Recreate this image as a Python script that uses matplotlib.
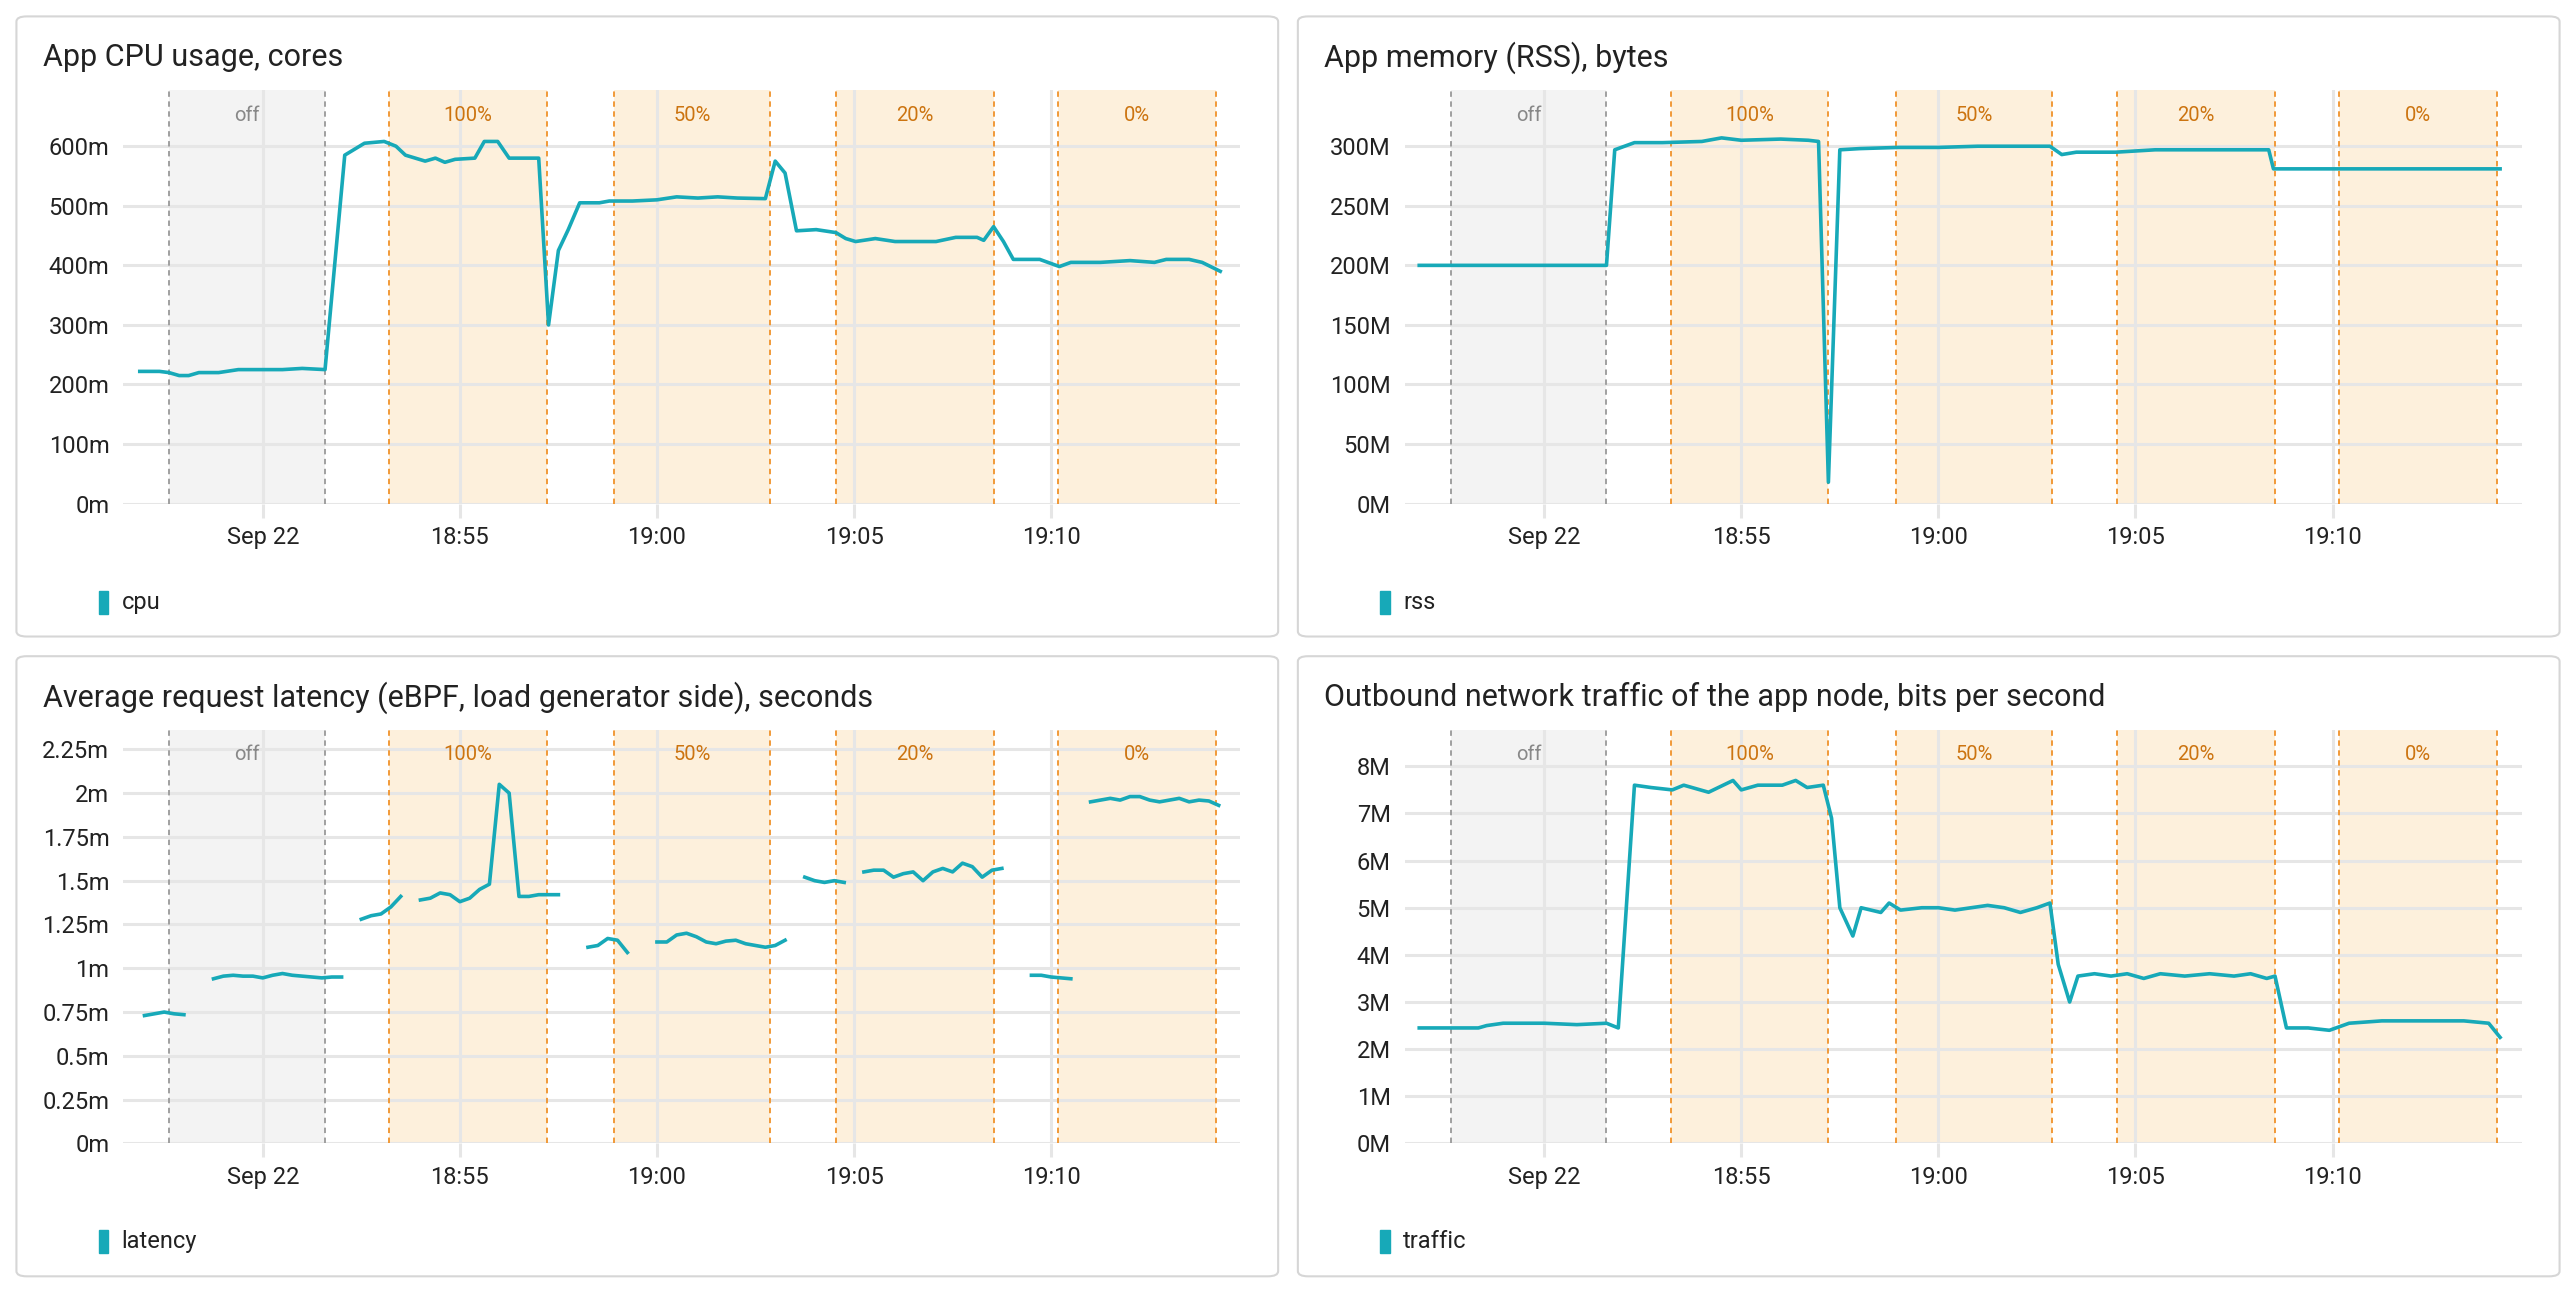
import matplotlib.pyplot as plt
import numpy as np
from matplotlib.patches import FancyBboxPatch, Rectangle
from matplotlib.ticker import FuncFormatter

plt.rcParams["font.family"] = ["Roboto", "DejaVu Sans"]

# time in minutes after 18:50
tick_pos = [0, 5, 10, 15, 20]
tick_labels = ["Sep 22", "18:55", "19:00", "19:05", "19:10"]

band_names = ["off", "100%", "50%", "20%", "0%"]
band_start = [-2.37, 3.21, 8.92, 14.54, 20.17]
band_end = [1.58, 7.21, 12.88, 18.54, 24.17]

cpu_t = [-3.12, -2.62, -2.38, -2.12, -1.88, -1.62, -1.12, -0.62, 0, 0.5, 1.0, 1.58,
         2.08, 2.58, 3.08, 3.38, 3.62, 4.12, 4.38, 4.62, 4.88, 5.38, 5.62, 5.96, 6.25,
         7.0, 7.25, 7.5, 7.75, 8.04, 8.54, 8.79, 9.38, 10.0, 10.5, 11.04, 11.54, 12.04,
         12.75, 13.0, 13.25, 13.54, 14.04, 14.54, 14.79, 15.04, 15.54, 16.04, 16.54,
         17.08, 17.58, 18.12, 18.29, 18.54, 18.79, 19.04, 19.71, 20.21, 20.5, 21.25,
         22.0, 22.62, 22.92, 23.5, 23.83, 24.29]
cpu_m = [222, 222, 220, 215, 215, 220, 220, 225, 225, 225, 227, 225,
         585, 605, 608, 600, 585, 575, 580, 573, 578, 580, 608, 608, 580,
         580, 300, 425, 460, 505, 505, 508, 508, 510, 515, 513, 515, 513,
         512, 575, 555, 458, 460, 455, 445, 440, 445, 440, 440,
         440, 447, 447, 442, 465, 440, 410, 410, 398, 405, 405,
         408, 405, 410, 410, 405, 390]

rss_t = [-3.17, 1.58, 1.79, 2.29, 3.0, 4.0, 4.5, 5.0, 6.0, 6.7, 6.96, 7.21, 7.5, 8.0,
         9.0, 10.0, 11.0, 12.0, 12.83, 13.13, 13.5, 14.5, 15.0, 15.5, 17.0, 18.38, 18.5, 24.25]
rss_mb = [200, 200, 297, 303, 303, 304, 307, 305, 306, 305, 304, 18, 297, 298,
          299, 299, 300, 300, 300, 293, 295, 295, 296, 297, 297, 297, 281, 281]

# latency sampled every 15 s starting 18:47:00, NaN = no data
lat_t0 = -3.0
lat_step = 0.25
nan = np.nan
lat_ms = [0.73, 0.74, 0.75, 0.74, 0.735, nan, nan,
          0.94, 0.955, 0.96, 0.955, 0.955, 0.945, 0.96, 0.97, 0.96, 0.955, 0.95, 0.945, 0.95, 0.95, nan,
          1.28, 1.30, 1.31, 1.35, 1.41, nan,
          1.39, 1.40, 1.43, 1.42, 1.38, 1.40, 1.45, 1.48, 2.05, 2.00, 1.41, 1.41, 1.42, 1.42, 1.42, nan, nan,
          1.12, 1.13, 1.17, 1.16, 1.09, nan, nan,
          1.15, 1.15, 1.19, 1.20, 1.18, 1.15, 1.14, 1.155, 1.16, 1.14, 1.13, 1.12, 1.13, 1.16, nan,
          1.52, 1.50, 1.49, 1.50, 1.49, nan,
          1.55, 1.56, 1.56, 1.52, 1.54, 1.55, 1.50, 1.55, 1.57, 1.55, 1.60, 1.58, 1.52, 1.56, 1.57, nan, nan,
          0.96, 0.96, 0.95, 0.945, 0.94, nan,
          1.95, 1.96, 1.97, 1.96, 1.98, 1.98, 1.96, 1.95, 1.96, 1.97, 1.95, 1.96, 1.955, 1.93]

net_t = [-3.17, -1.67, -1.46, -1.04, 0, 0.83, 1.58, 1.88, 2.29, 2.71, 3.25, 3.54, 4.17,
         4.79, 5.0, 5.42, 6.04, 6.38, 6.67, 7.08, 7.29, 7.5, 7.83, 8.04, 8.54, 8.75, 9.04,
         9.58, 10.0, 10.42, 10.83, 11.25, 11.67, 12.08, 12.5, 12.83, 13.04, 13.33, 13.54,
         13.96, 14.38, 14.79, 15.21, 15.63, 16.25, 16.88, 17.5, 17.92, 18.33, 18.54, 18.83,
         19.38, 19.92, 20.42, 21.25, 23.33, 23.96, 24.25]
net_mbps = [2.45, 2.45, 2.5, 2.55, 2.55, 2.52, 2.55, 2.45, 7.6, 7.55, 7.5, 7.6, 7.45,
            7.7, 7.5, 7.6, 7.6, 7.7, 7.55, 7.6, 6.9, 5.0, 4.4, 5.0, 4.9, 5.1, 4.95,
            5.0, 5.0, 4.95, 5.0, 5.05, 5.0, 4.9, 5.0, 5.1, 3.8, 3.0, 3.55,
            3.6, 3.55, 3.6, 3.5, 3.6, 3.55, 3.6, 3.55, 3.6, 3.5, 3.55, 2.45,
            2.45, 2.4, 2.55, 2.6, 2.6, 2.55, 2.25]

LINE = "#17a9b8"
W, H = 1568.0, 790.0

fig = plt.figure(figsize=(25.76, 12.96), dpi=100)
fig.patch.set_facecolor("white")


def fx(x):
    return x / W


def fy(y):
    return 1 - y / H


def panel(px, py, title, legend, ylim, yticks, fmt, draw):
    # px, py: top-left corner of the panel box in reference pixels
    box = FancyBboxPatch((fx(px), fy(py + 378)), fx(768), 378 / H,
                         boxstyle="round,pad=0,rounding_size=0.004",
                         transform=fig.transFigure, facecolor="white",
                         edgecolor="#d6d6d6", linewidth=1.5, zorder=-5)
    fig.patches.append(box)
    fig.text(fx(px + 16), fy(py + 25), title, fontsize=22, color="#222222", va="center")

    ax = fig.add_axes([fx(px + 65), fy(py + 297), fx(680), 252 / H])
    ax.set_zorder(2)
    ax.patch.set_alpha(0)
    ax.set_xlim(-3.54, 24.8)
    ax.set_ylim(*ylim)
    for name, s, e in zip(band_names, band_start, band_end):
        off = name == "off"
        fill = "#f3f3f3" if off else "#fdf0dc"
        edge = "#999999" if off else "#f0922a"
        ax.axvspan(s, e, color=fill, zorder=0, linewidth=0)
        for v in (s, e):
            ax.axvline(v, color=edge, linestyle=(0, (3, 2.5)), linewidth=1.3, zorder=1)
        ax.text((s + e) / 2, 0.94, name, transform=ax.get_xaxis_transform(),
                ha="center", va="center", fontsize=14.5,
                color="#888888" if off else "#cc7410")

    ax.set_xticks(tick_pos)
    ax.set_xticklabels(tick_labels)
    ax.set_yticks(yticks)
    ax.yaxis.set_major_formatter(FuncFormatter(fmt))
    ax.grid(True, color="#e6e6e6", linewidth=2.2, zorder=0.5)
    ax.set_axisbelow(True)
    for sp in ax.spines.values():
        sp.set_visible(False)
    ax.tick_params(axis="x", length=10, width=2.2, color="#e6e6e6", labelsize=17,
                   labelcolor="#222222", pad=6)
    ax.tick_params(axis="y", length=0, labelsize=17, labelcolor="#222222", pad=10)
    draw(ax)

    fig.patches.append(Rectangle((fx(px + 50), fy(py + 364)), fx(6), 14 / H,
                                 transform=fig.transFigure, color=LINE))
    fig.text(fx(px + 64), fy(py + 357), legend, fontsize=17, color="#222222", va="center")
    return ax


def fmt_m(v, _):
    return f"{v:g}m"


def fmt_big(v, _):
    return f"{v:g}M"


panel(10, 10, "App CPU usage, cores", "cpu", (0, 694),
      [0, 100, 200, 300, 400, 500, 600], fmt_m,
      lambda ax: ax.plot(cpu_t, cpu_m, color=LINE, linewidth=2.6, zorder=3))

panel(790, 10, "App memory (RSS), bytes", "rss", (0, 347),
      [0, 50, 100, 150, 200, 250, 300], fmt_big,
      lambda ax: ax.plot(rss_t, rss_mb, color=LINE, linewidth=2.6, zorder=3))

lat_t = lat_t0 + lat_step * np.arange(len(lat_ms))
panel(10, 400, "Average request latency (eBPF, load generator side), seconds", "latency",
      (0, 2.36), [0, 0.25, 0.5, 0.75, 1, 1.25, 1.5, 1.75, 2, 2.25], fmt_m,
      lambda ax: ax.plot(lat_t, lat_ms, color=LINE, linewidth=2.6, zorder=3))

panel(790, 400, "Outbound network traffic of the app node, bits per second", "traffic",
      (0, 8.77), [0, 1, 2, 3, 4, 5, 6, 7, 8], fmt_big,
      lambda ax: ax.plot(net_t, net_mbps, color=LINE, linewidth=2.6, zorder=3))

fig.savefig("out.png", dpi=100, facecolor="white")
